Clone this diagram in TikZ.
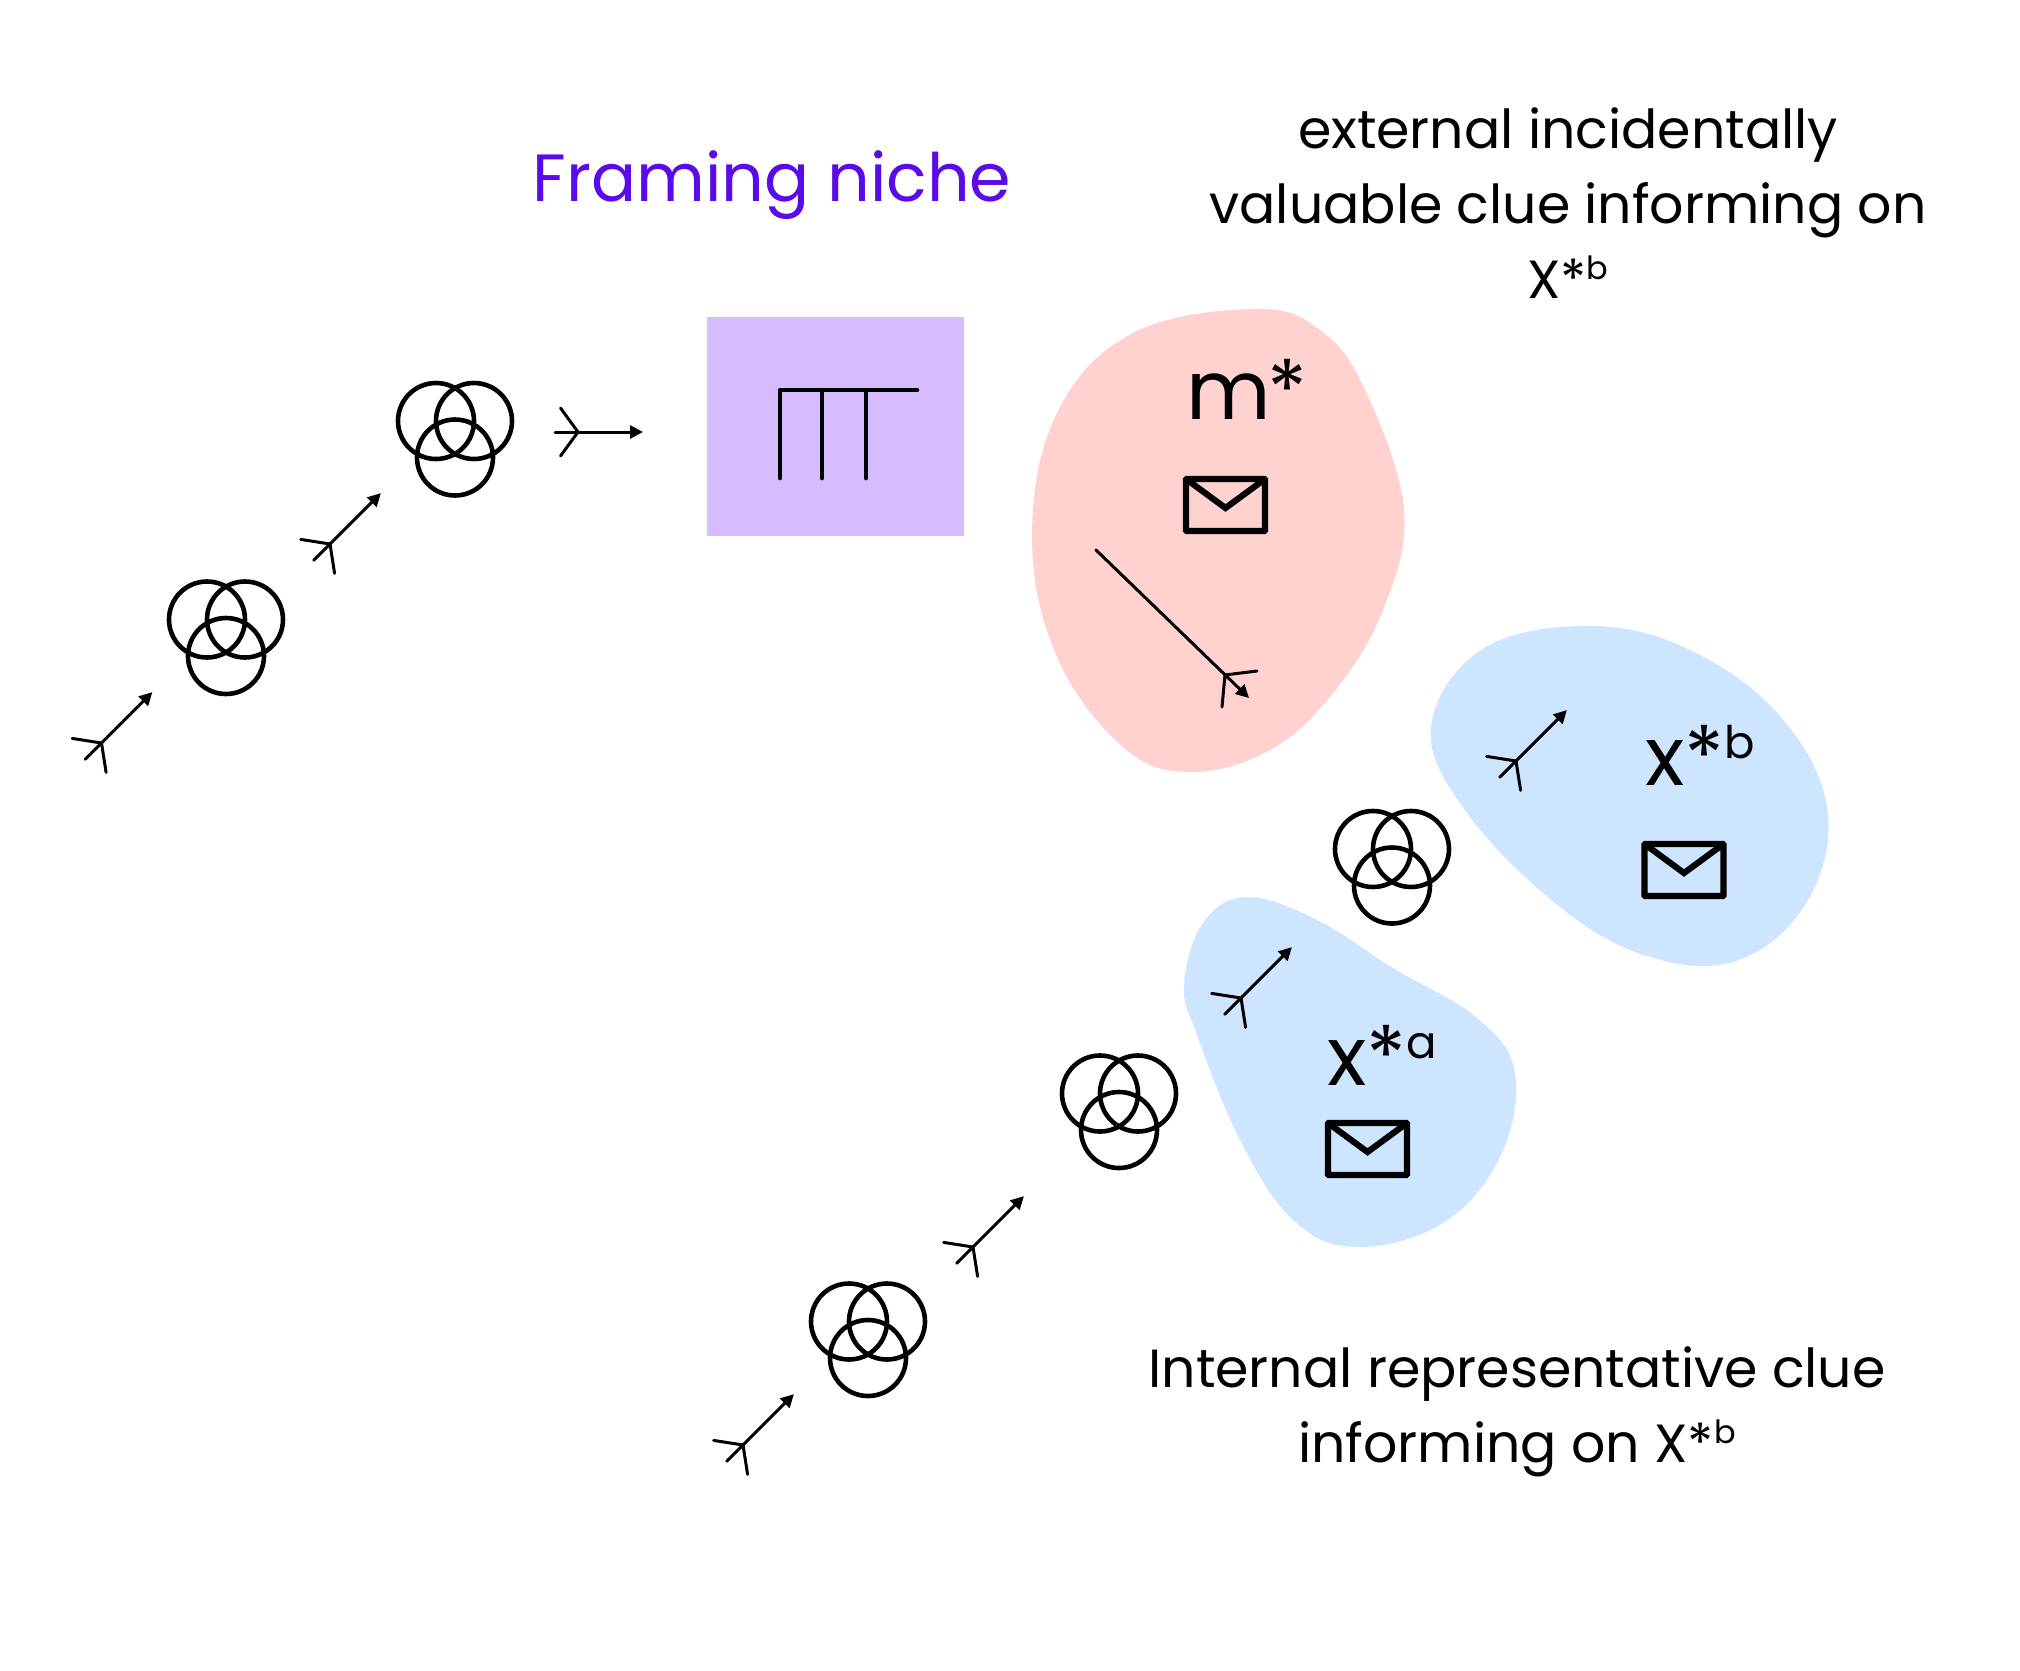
\documentclass[tikz,border=0pt]{standalone}
\usepackage{fontspec}
\setmainfont{Poppins}
\usetikzlibrary{arrows.meta}
\definecolor{nichepurple}{HTML}{5B0BE8}
\definecolor{nichefill}{HTML}{D6BCFE}
\definecolor{blobred}{HTML}{FFD1CF}
\definecolor{blobblue}{HTML}{CEE5FF}
% px = 0.5pt; big/small text helpers
\newcommand{\bigfont}{\fontsize{41}{50}\selectfont}
\newcommand{\supbig}[1]{\raisebox{13.2pt}{\fontsize{22.5}{26}\selectfont #1}}
\newcommand{\supcap}[1]{\raisebox{9.5pt}{\fontsize{16}{18}\selectfont #1}}
\tikzset{
  blob/.style={smooth cycle,tension=0.65},
  forkline/.style={line width=1.5pt,line cap=round},
  forktip/.style={forkline,-{Triangle[length=6.5pt,width=6.5pt]}},
  ringline/.style={line width=2.3pt},
  iconline/.style={line width=3.1pt,line join=miter},
  combline/.style={line width=2.3pt,line cap=round,line join=round},
  label/.style={inner sep=0pt,outer sep=0pt,font=\fontsize{26.85}{37.4}\selectfont,align=center,text=black},
  biglabel/.style={inner sep=0pt,outer sep=0pt,anchor=base west,font=\bigfont,text=black},
  forkarrow/.pic={
    \coordinate (-c) at (0,0);
    \coordinate (-tail) at (-23,0);
    \coordinate (-tip) at (#1,0);
    \coordinate (-t1) at (-17.5,-24);
    \coordinate (-t2) at (-17.5,24);
    \draw[forktip] (-tail) -- (-tip);
    \draw[forkline] (-t1) -- (-c) -- (-t2);
  },
  triplering/.pic={
    \draw[ringline] (-19,-36.5) circle[radius=38];
    \draw[ringline] (19,-36.5) circle[radius=38];
    \draw[ringline] (0,0) circle[radius=38];
  },
  envelopeicon/.pic={
    \draw[iconline,rounded corners=0.4pt] (-39.5,-26) rectangle (39.5,26);
    \draw[iconline] (-39.5,-26) -- (0,3) -- (39.5,-26);
  }
}
\begin{document}
\begin{tikzpicture}[x=0.5pt,y=-0.5pt]
\useasboundingbox (0,0) rectangle (2020,1671);
% blobs
\fill[blobred] plot[blob] coordinates {(1255,309)(1320,330)(1365,390)(1404,510)(1383,610)(1333,693)(1270,750)(1190,772)(1123,747)(1057,657)(1032,537)(1057,413)(1133,333)};
\fill[blobblue] plot[blob] coordinates {(1431,728)(1481,650)(1585,626)(1686,648)(1779,715)(1827,807)(1808,900)(1739,960)(1650,957)(1560,907)(1467,813)};
\fill[blobblue] plot[blob] coordinates {(1184,985)(1203,923)(1247,897)(1317,920)(1393,968)(1477,1018)(1515,1073)(1500,1157)(1443,1223)(1357,1247)(1293,1220)(1240,1140)(1197,1035)};
% niche box
\node[fill=nichefill,minimum width=128.5pt,minimum height=109.5pt,inner sep=0pt,outer sep=0pt,anchor=north west] (niche) at (707,317) {};
\coordinate (cA) at (780,390);
\coordinate (cB) at (917,390);
\coordinate (cC) at (822,390);
\coordinate (cD) at (866,390);
\coordinate (cA2) at (780,478);
\coordinate (cC2) at (822,478);
\coordinate (cD2) at (866,478);
\draw[combline] (cA2) -- (cA) -- (cB);
\draw[combline] (cC) -- (cC2);
\draw[combline] (cD) -- (cD2);
% titles
\node[anchor=base,inner sep=0pt,text=nichepurple,font=\fontsize{33.4}{40}\selectfont] (title) at (772,201) {Framing niche};
\node[label] (ext) at (1568,203) {external incidentally\\valuable clue informing on\\X*\supcap{b}};
\node[label] (int) at (1517,1412) {Internal representative clue\\informing on X*\supcap{b}};
% big labels
\node[biglabel] (mstar) at (1186,419) {m\kern-1.5pt*};
\node[biglabel] (xb) at (1645,785) {x*\supbig{b}};
\node[biglabel] (xa) at (1327,1085) {x*\supbig{a}};
% envelopes
\pic (env1) at (1225.5,505) {envelopeicon};
\pic (env2) at (1684,870) {envelopeicon};
\pic (env3) at (1367.5,1149) {envelopeicon};
% ring triples
\pic (r1) at (455,457.5) {triplering};
\pic (r2) at (226,656) {triplering};
\pic (r3) at (1392,885.5) {triplering};
\pic (r4) at (1119,1130) {triplering};
\pic (r5) at (868,1358) {triplering};
% fork arrows
\pic[rotate=45] (a1) at (101.5,743) {forkarrow=72};
\pic[rotate=45] (a2) at (330,544) {forkarrow=72};
\pic (a3) at (578,432) {forkarrow=65};
\pic[rotate=45] (a4) at (1516,761) {forkarrow=72};
\pic[rotate=45] (a5) at (1241,998) {forkarrow=72};
\pic[rotate=45] (a6) at (973,1247) {forkarrow=72};
\pic[rotate=45] (a7) at (743,1445) {forkarrow=72};
% arrow in red blob
\coordinate (rs) at (1096,550);
\coordinate (rc) at (1225,675);
\coordinate (rt) at (1249,698);
\coordinate (rt1) at (1257,671);
\coordinate (rt2) at (1222,707);
\draw[forktip] (rs) -- (rt);
\draw[forkline] (rt1) -- (rc) -- (rt2);
\end{tikzpicture}
\end{document}
